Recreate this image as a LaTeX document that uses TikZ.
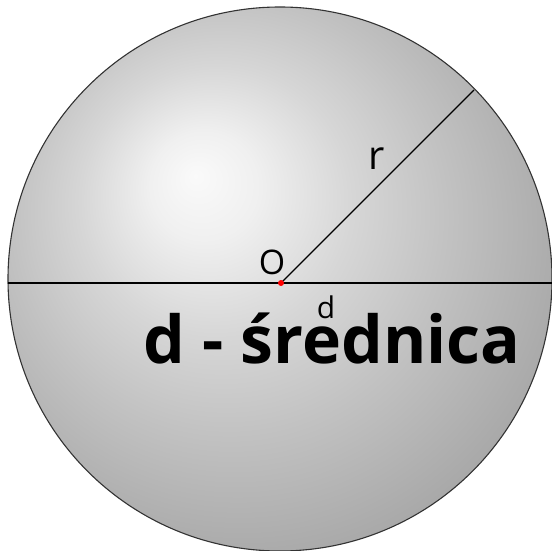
\documentclass[tikz,border=0pt]{standalone}
\usepackage{fontspec}
\setmainfont{Open Sans}
\pgfdeclareradialshading{ballsh}{\pgfpoint{-7.8bp}{9.5bp}}{%
color(0bp)=(black!2); color(5bp)=(black!6); color(12.5bp)=(black!16);
color(20bp)=(black!24); color(25bp)=(black!29); color(31bp)=(black!35); color(37bp)=(black!45); color(50bp)=(black!45)}
\tikzset{
  ball/.style={draw=black!80, line width=1.1bp, shading=ballsh},
  diam/.style={draw=black, line width=2bp},
  rad/.style={draw=black, line width=1.3bp},
  lbl/.style={inner sep=0pt, anchor=base},
}
\begin{document}
\begin{tikzpicture}[x=1bp,y=-1bp]
\useasboundingbox (0,0) rectangle (552,551);
\coordinate (C) at (280,279);
\path[ball] (C) circle[radius=272];
\coordinate (L) at (8,283);
\coordinate (R) at (552,283);
\coordinate (O) at (281,283);
\coordinate (E) at (474,90);
\draw[diam] (L) -- (R);
\draw[rad] (O) -- (E);
\fill[red] (O) circle[radius=3];
\node[lbl, font=\fontsize{34}{34}\selectfont] (lo) at (272,274) {O};
\node[lbl, font=\fontsize{40}{40}\selectfont] (lr) at (377,170) {r};
\node[lbl, font=\fontsize{30}{30}\selectfont] (ld) at (326,318) {d};
\node[lbl, font=\bfseries\fontsize{66.3}{66.3}\selectfont] (title) at (332,363) {d - średnica};
\end{tikzpicture}
\end{document}
